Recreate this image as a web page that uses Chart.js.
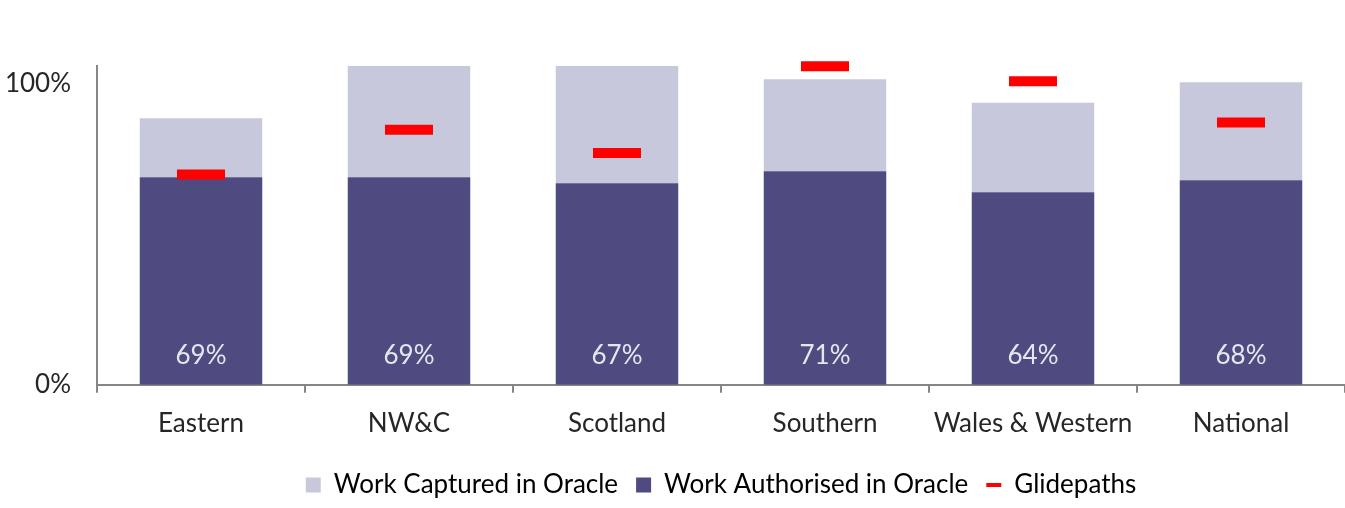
<!DOCTYPE html>
<html>
<head>
<meta charset="utf-8">
<script src="https://cdn.jsdelivr.net/npm/chart.js@4.4.1/dist/chart.umd.min.js"></script>
<style>
  html, body { margin: 0; padding: 0; background: #fff; }
  #wrap { width: 1345px; height: 508px; }
</style>
</head>
<body>
<div id="wrap"><canvas id="chart"></canvas></div>
<script>
// data (percent)
const regions = ['Eastern', 'NW&C', 'Scotland', 'Southern', 'Wales & Western', 'National'];
const authorised = [69, 69, 67, 71, 64, 68];
const captured = [19.6, 37, 39, 30.6, 29.8, 32.6];   // part on top of authorised
const glidepaths = [69.9, 84.8, 77.1, 105.9, 100.9, 87.2];
const yTicks = [0, 100];

const LIGHT = '#c8c8dc';
const DARK = '#4f4a80';
const RED = '#ff0000';
const AXIS = '#868686';
const FONT = 'Lato';

// percent labels at the foot of the dark bars
const barLabels = {
  id: 'barLabels',
  afterDatasetsDraw(chart) {
    const meta = chart.getDatasetMeta(1);
    const ctx = chart.ctx;
    ctx.save();
    ctx.font = '26px ' + FONT;
    ctx.fillStyle = '#e6e6ef';
    ctx.textAlign = 'center';
    ctx.textBaseline = 'middle';
    meta.data.forEach((bar, i) => {
      ctx.fillText(authorised[i] + '%', bar.x, bar.base - 29);
    });
    ctx.restore();
  }
};

new Chart(document.getElementById('chart'), {
  type: 'bar',
  data: {
    labels: regions,
    datasets: [
      { type: 'line', label: 'Glidepaths', data: glidepaths, order: 0, stack: 'g',
        showLine: false, pointStyle: 'line', pointRadius: 24, pointHoverRadius: 24,
        pointBorderWidth: 10, borderColor: RED, backgroundColor: RED, clip: false },
      { label: 'Work Authorised in Oracle', data: authorised, order: 1, stack: 'a',
        backgroundColor: DARK, borderWidth: 0, barPercentage: 0.589, categoryPercentage: 1 },
      { label: 'Work Captured in Oracle', data: captured, order: 1, stack: 'a',
        backgroundColor: LIGHT, borderWidth: 0, barPercentage: 0.589, categoryPercentage: 1 }
    ]
  },
  options: {
    responsive: true,
    maintainAspectRatio: false,
    animation: false,
    layout: { autoPadding: false, padding: { top: 66, right: 0, left: 0, bottom: 0 } },
    plugins: {
      tooltip: { enabled: false },
      legend: {
        position: 'bottom',
        fullSize: false,
        labels: {
          font: { family: FONT, size: 26 },
          color: '#262626',
          usePointStyle: true,
          pointStyleWidth: 15,
          boxHeight: 15,
          padding: 18,
          generateLabels: () => [
            { text: 'Work Captured in Oracle', fillStyle: LIGHT, strokeStyle: LIGHT, lineWidth: 0, pointStyle: 'rect', datasetIndex: 2 },
            { text: 'Work Authorised in Oracle', fillStyle: DARK, strokeStyle: DARK, lineWidth: 0, pointStyle: 'rect', datasetIndex: 1 },
            { text: 'Glidepaths', fillStyle: RED, strokeStyle: RED, lineWidth: 4, pointStyle: 'line', datasetIndex: 0 }
          ]
        }
      }
    },
    scales: {
      x: {
        stacked: true,
        afterFit: (scale) => { scale.paddingLeft = 0; scale.paddingRight = 0; },
        grid: { offset: true, drawOnChartArea: false, drawTicks: true, tickLength: 8, color: AXIS, lineWidth: 2 },
        border: { color: AXIS, width: 2 },
        ticks: { font: { family: FONT, size: 26 }, color: '#262626', padding: 15, maxRotation: 0 }
      },
      y: {
        stacked: true,
        min: 0,
        max: 106,
        afterBuildTicks: (scale) => { scale.ticks = yTicks.map(v => ({ value: v })); },
        afterFit: (scale) => { scale.width = 97; },
        grid: { display: false, drawTicks: false },
        border: { color: AXIS, width: 2 },
        ticks: { font: { family: FONT, size: 26 }, color: '#262626', padding: 26, callback: v => v + '%' }
      }
    }
  },
  plugins: [barLabels]
});
</script>
</body>
</html>
